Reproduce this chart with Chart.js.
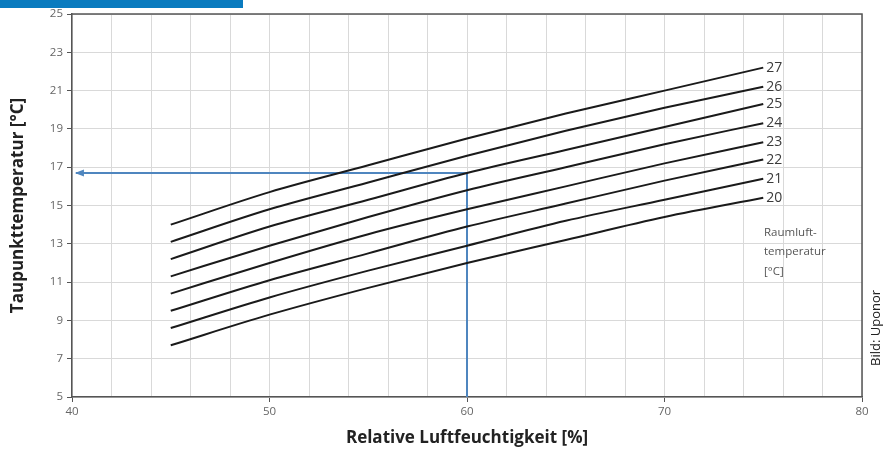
<!DOCTYPE html>
<html>
<head>
<meta charset="utf-8">
<script src="https://cdn.jsdelivr.net/npm/chart.js@4/dist/chart.umd.min.js"></script>
<style>
  html, body { margin: 0; padding: 0; background: #fff; }
  #wrap { position: relative; width: 883px; height: 456px; }
  #bar { position: absolute; left: 0; top: 0; width: 243px; height: 8px; background: #0a7bbf; }
</style>
</head>
<body>
<div id="wrap">
  <canvas id="dewChart" width="883" height="456"></canvas>
  <div id="bar"></div>
</div>
<script>
// Relative Luftfeuchtigkeit (%) der Stuetzstellen
const humidity = [45, 50, 55, 60, 65, 70, 75];

// Raumlufttemperaturen (Kurven-Beschriftung)
const roomTemps = [20, 21, 22, 23, 24, 25, 26, 27];

// Taupunkttemperatur je Raumlufttemperatur
const dew20 = [7.7, 9.3, 10.7, 12.0, 13.2, 14.4, 15.4];
const dew21 = [8.6, 10.2, 11.6, 12.9, 14.2, 15.3, 16.4];
const dew22 = [9.5, 11.1, 12.5, 13.9, 15.1, 16.3, 17.4];
const dew23 = [10.4, 12.0, 13.5, 14.8, 16.0, 17.2, 18.3];
const dew24 = [11.3, 12.9, 14.4, 15.8, 17.0, 18.2, 19.3];
const dew25 = [12.2, 13.9, 15.3, 16.7, 17.9, 19.1, 20.3];
const dew26 = [13.1, 14.8, 16.2, 17.6, 18.9, 20.1, 21.2];
const dew27 = [14.0, 15.7, 17.1, 18.5, 19.8, 21.0, 22.2];
const dewSeries = [dew20, dew21, dew22, dew23, dew24, dew25, dew26, dew27];

// Ablese-Beispiel (blaue Linie): 60 % -> 16,7 °C
const guideX = [60, 60, 40.2];
const guideY = [5, 16.7, 16.7];

// Achsen
const xGrid = [40, 42, 44, 46, 48, 50, 52, 54, 56, 58, 60, 62, 64, 66, 68, 70, 72, 74, 76, 78, 80];
const xTickLabels = [40, 50, 60, 70, 80];
const yTicks = [5, 7, 9, 11, 13, 15, 17, 19, 21, 23, 25];

const datasets = dewSeries.map((vals, i) => ({
    label: String(roomTemps[i]),
    data: humidity.map((h, j) => ({ x: h, y: vals[j] })),
    borderColor: '#1a1a1a',
    borderWidth: 2,
    pointRadius: 0,
    cubicInterpolationMode: 'monotone',
    showLine: true
}));

datasets.push({
    label: 'guide',
    data: guideX.map((x, i) => ({ x: x, y: guideY[i] })),
    borderColor: '#4f86bf',
    borderWidth: 2,
    pointRadius: 0,
    tension: 0,
    showLine: true
});

const extrasPlugin = {
    id: 'extras',
    afterDatasetsDraw(chart) {
        const { ctx, chartArea: a, scales: { x, y } } = chart;
        ctx.save();
        // Rahmen oben/rechts
        ctx.strokeStyle = '#555';
        ctx.lineWidth = 1.5;
        ctx.beginPath();
        ctx.moveTo(a.left, a.top);
        ctx.lineTo(a.right, a.top);
        ctx.lineTo(a.right, a.bottom);
        ctx.stroke();

        // Pfeilspitze der Ablese-Linie
        const last = guideX.length - 1;
        const px = x.getPixelForValue(guideX[last]);
        const py = y.getPixelForValue(guideY[last]);
        ctx.fillStyle = '#4f86bf';
        ctx.beginPath();
        ctx.moveTo(px - 1, py);
        ctx.lineTo(px + 8, py - 3.5);
        ctx.lineTo(px + 8, py + 3.5);
        ctx.closePath();
        ctx.fill();

        // Kurvenbeschriftung
        ctx.fillStyle = '#3a3a3a';
        ctx.font = '14px "Open Sans"';
        ctx.textBaseline = 'middle';
        ctx.textAlign = 'left';
        dewSeries.forEach((vals, i) => {
            const lx = x.getPixelForValue(humidity[humidity.length - 1]);
            const ly = y.getPixelForValue(vals[vals.length - 1]);
            ctx.fillText(String(roomTemps[i]), lx + 3, ly);
        });

        ctx.fillStyle = '#555';
        ctx.font = '11.5px "Open Sans"';
        ctx.fillText('Raumluft-', 764, 233);
        ctx.fillText('temperatur', 764, 252);
        ctx.fillText('[°C]', 764, 272);

        // Quelle
        ctx.translate(876, 366);
        ctx.rotate(-Math.PI / 2);
        ctx.fillStyle = '#222';
        ctx.font = '13px "Open Sans"';
        ctx.fillText('Bild: Uponor', 0, 0);
        ctx.restore();
    }
};

new Chart(document.getElementById('dewChart'), {
    type: 'scatter',
    data: { datasets: datasets },
    plugins: [extrasPlugin],
    options: {
        responsive: false,
        animation: false,
        layout: { padding: { top: 14, right: 21, left: 0, bottom: 0 } },
        plugins: {
            legend: { display: false },
            tooltip: { enabled: false }
        },
        scales: {
            x: {
                type: 'linear',
                min: 40,
                max: 80,
                afterBuildTicks: (s) => { s.ticks = xGrid.map(v => ({ value: v })); },
                afterFit: (s) => { s.height = 59; },
                grid: {
                    color: '#d9d9d9',
                    tickLength: 5,
                    tickColor: (c) => xTickLabels.includes(c.tick.value) ? '#555' : 'rgba(0,0,0,0)'
                },
                border: { color: '#555', width: 1.5 },
                ticks: {
                    autoSkip: false,
                    maxRotation: 0,
                    padding: 3,
                    color: '#666',
                    font: { family: 'Open Sans', size: 11.5 },
                    callback: (v) => xTickLabels.includes(v) ? String(v) : ''
                },
                title: {
                    display: true,
                    text: 'Relative Luftfeuchtigkeit [%]',
                    color: '#222',
                    font: { family: 'Open Sans', size: 17, weight: 'bold' },
                    padding: { top: 0, bottom: 8 }
                }
            },
            y: {
                type: 'linear',
                min: 5,
                max: 25,
                afterBuildTicks: (s) => { s.ticks = yTicks.map(v => ({ value: v })); },
                afterFit: (s) => { s.width = 72; },
                grid: { color: '#d9d9d9', tickLength: 5, tickColor: '#555' },
                border: { color: '#555', width: 1.5 },
                ticks: {
                    padding: 4,
                    color: '#666',
                    font: { family: 'Open Sans', size: 11.5 }
                },
                title: {
                    display: true,
                    text: 'Taupunkttemperatur [°C]',
                    color: '#222',
                    font: { family: 'Open Sans', size: 17, weight: 'bold' },
                    padding: { top: 8, bottom: 0 }
                }
            }
        }
    }
});
</script>
</body>
</html>
